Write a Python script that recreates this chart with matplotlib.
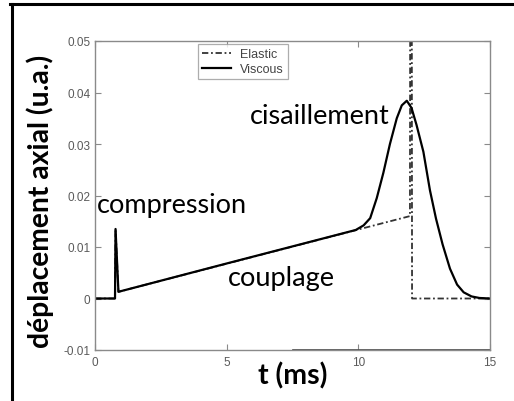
import matplotlib
matplotlib.use("Agg")
import matplotlib.pyplot as plt
from matplotlib.lines import Line2D

# ---- data ----
t_elastic = [0, 0.76, 0.78, 0.89, 10.0, 11.96, 11.97, 12.03, 12.04, 15]
y_elastic = [0, 0, 0.0135, 0.0013, 0.0134, 0.0160, 0.06, 0.06, 0, 0]

t_viscous = [0, 0.76, 0.78, 0.89, 5.0, 9.9, 10.2, 10.45, 10.7, 10.95, 11.2,
             11.46, 11.65, 11.84, 12.02, 12.21, 12.47, 12.72, 12.95, 13.2,
             13.48, 13.75, 14.0, 14.3, 14.6, 15]
y_viscous = [0, 0, 0.0135, 0.0013, 0.0068, 0.0133, 0.0142, 0.0156, 0.0195,
             0.0244, 0.0300, 0.0350, 0.0375, 0.0384, 0.0370, 0.0337, 0.0285,
             0.0210, 0.0155, 0.0105, 0.0058, 0.0027, 0.0012, 0.0004, 0.0001, 0]

x_ticks = [0, 5, 10, 15]
y_ticks = [-0.01, 0, 0.01, 0.02, 0.03, 0.04, 0.05]
y_tick_labels = ["-0.01", "0", "0.01", "0.02", "0.03", "0.04", "0.05"]

annotations = [("compression", 0.08, 0.0168),
               ("cisaillement", 5.87, 0.0340),
               ("couplage", 5.06, 0.0027)]

W, H = 514, 402
fig = plt.figure(figsize=(W / 100, H / 100), dpi=100)
ax = fig.add_axes([95 / W, 1 - 351 / H, 395 / W, 309 / H])

ax.plot(t_elastic, y_elastic, color="#333333", lw=1.3, ls=(0, (3.5, 1.5, 1, 1.5)),
        label="Elastic")
ax.plot(t_viscous, y_viscous, color="black", lw=1.6, label="Viscous")

ax.set_xlim(0, 15)
ax.set_ylim(-0.01, 0.05)
ax.set_xticks(x_ticks)
ax.set_xticklabels([str(v) for v in x_ticks])
ax.set_yticks(y_ticks)
ax.set_yticklabels(y_tick_labels)

grey = "#8a8a8a"
for s in ax.spines.values():
    s.set_color(grey)
    s.set_linewidth(1.0)
ax.tick_params(direction="in", length=4, width=0.8, color=grey,
               top=True, right=True, labelsize=8.5, labelcolor="#5a5a5a")
ax.tick_params(axis="x", pad=4)
ax.tick_params(axis="y", pad=3.5)
for lab in ax.get_xticklabels() + ax.get_yticklabels():
    lab.set_family("Liberation Sans")

ax.axhline(-0.01, xmin=0.5, xmax=1.0, color="#444444", lw=1.2, clip_on=False)

leg = ax.legend(loc="upper left", bbox_to_anchor=(0.26, 0.99),
                frameon=True, fancybox=False, handlelength=2.3,
                borderpad=0.35, labelspacing=0.2, handletextpad=0.7,
                borderaxespad=0.0,
                prop={"family": "Liberation Sans", "size": 9})
leg.get_frame().set_edgecolor("#999999")
leg.get_frame().set_linewidth(0.9)
for txt in leg.get_texts():
    txt.set_color("#444444")

for text, x, y in annotations:
    ax.text(x, y, text, family="Lato", fontsize=19.5, color="black",
            ha="left", va="baseline")

fig.text(40 / W, 1 - 201 / H, "déplacement axial (u.a.)", family="Lato",
         fontweight="bold", fontsize=20.3, rotation=90, ha="center", va="center")
fig.text(293 / W, 1 - 376 / H, "t (ms)", family="Lato", fontweight="bold",
         fontsize=20.5, ha="center", va="center")

# slide frame lines
fig.add_artist(Line2D([10 / W, 1], [1 - 5 / H, 1 - 5 / H], color="black", lw=2.2,
                      transform=fig.transFigure))
fig.add_artist(Line2D([11.5 / W, 11.5 / W], [0, 1 - 5 / H], color="black", lw=2.2,
                      transform=fig.transFigure))

fig.savefig("out.png", dpi=100)
